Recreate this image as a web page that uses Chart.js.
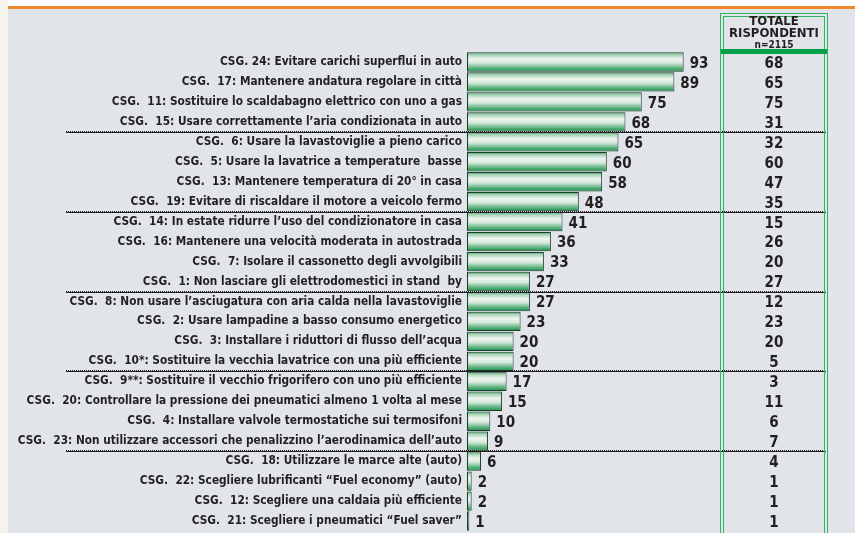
<!DOCTYPE html>
<html>
<head>
<meta charset="utf-8">
<script src="https://cdn.jsdelivr.net/npm/chart.js@4.4.1/dist/chart.umd.min.js"></script>
<style>
  html, body { margin: 0; padding: 0; background: #e1e4e9; }
  #wrap { position: relative; width: 855px; height: 533px; }
</style>
</head>
<body>
<div id="wrap"><canvas id="chart" width="855" height="533"></canvas></div>
<script>
// dati
var categorie = [
	"CSG. 24: Evitare carichi superflui in auto",
	"CSG.  17: Mantenere andatura regolare in città",
	"CSG.  11: Sostituire lo scaldabagno elettrico con uno a gas",
	"CSG.  15: Usare correttamente l\u2019aria condizionata in auto",
	"CSG.  6: Usare la lavastoviglie a pieno carico",
	"CSG.  5: Usare la lavatrice a temperature  basse",
	"CSG.  13: Mantenere temperatura di 20° in casa",
	"CSG.  19: Evitare di riscaldare il motore a veicolo fermo",
	"CSG.  14: In estate ridurre l\u2019uso del condizionatore in casa",
	"CSG.  16: Mantenere una velocità moderata in autostrada",
	"CSG.  7: Isolare il cassonetto degli avvolgibili",
	"CSG.  1: Non lasciare gli elettrodomestici in stand  by",
	"CSG.  8: Non usare l\u2019asciugatura con aria calda nella lavastoviglie",
	"CSG.  2: Usare lampadine a basso consumo energetico",
	"CSG.  3: Installare i riduttori di flusso dell\u2019acqua",
	"CSG.  10*: Sostituire la vecchia lavatrice con una più efficiente",
	"CSG.  9**: Sostituire il vecchio frigorifero con uno più efficiente",
	"CSG.  20: Controllare la pressione dei pneumatici almeno 1 volta al mese",
	"CSG.  4: Installare valvole termostatiche sui termosifoni",
	"CSG.  23: Non utilizzare accessori che penalizzino l\u2019aerodinamica dell\u2019auto",
	"CSG.  18: Utilizzare le marce alte (auto)",
	"CSG.  22: Scegliere lubrificanti \u201cFuel economy\u201d (auto)",
	"CSG.  12: Scegliere una caldaia più efficiente",
	"CSG.  21: Scegliere i pneumatici \u201cFuel saver\u201d"
];
var valori = [93, 89, 75, 68, 65, 60, 58, 48, 41, 36, 33, 27, 27, 23, 20, 20, 17, 15, 10, 9, 6, 2, 2, 1];
var totale = [68, 65, 75, 31, 32, 60, 47, 35, 15, 26, 20, 27, 12, 23, 20, 5, 3, 11, 6, 7, 4, 1, 1, 1];
var intestazione = ["TOTALE", "RISPONDENTI", "n=2115"];
var gruppo = 4; // linea tratteggiata ogni 4 righe

var FONT = "'DejaVu Sans Condensed', 'DejaVu Sans', sans-serif";
var TXT = "#231f20";

function gradBarra(c) {
	var chart = c.chart;
	var y = chart.scales && chart.scales.y;
	if (!chart.chartArea || !y || c.dataIndex === undefined) { return "#7cc095"; }
	var cy = y.getPixelForValue(c.dataIndex);
	var h = 10;
	var g = chart.ctx.createLinearGradient(0, cy - h, 0, cy + h);
	g.addColorStop(0, "#2e9a5a");
	g.addColorStop(0.15, "#a9d3b8");
	g.addColorStop(0.35, "#eef5f0");
	g.addColorStop(0.55, "#d6e8dc");
	g.addColorStop(0.8, "#5cb27e");
	g.addColorStop(1, "#138a45");
	return g;
}

// sfondo, linea arancio, separatori, valori, colonna totale
var decorazioni = {
	id: 'decorazioni',
	beforeDraw: function(chart) {
		var ctx = chart.ctx;
		ctx.save();
		ctx.fillStyle = "#e1e4e9";
		ctx.fillRect(0, 0, chart.width, chart.height);
		ctx.fillStyle = "#f5f3ee";
		ctx.fillRect(0, 0, 8, chart.height);
		ctx.fillStyle = "#ffffff";
		ctx.fillRect(8, 0, chart.width - 8, 6);
		ctx.fillStyle = "#ee8a2e";
		ctx.fillRect(8, 6, chart.width - 8, 3);
		ctx.restore();
	},
	afterDatasetsDraw: function(chart) {
		var ctx = chart.ctx;
		var y = chart.scales.y;
		var meta = chart.getDatasetMeta(0);
		ctx.save();

		// separatori
		ctx.strokeStyle = "#231f20";
		ctx.lineWidth = 1;
		for (var i = gruppo; i < categorie.length; i += gruppo) {
			var ly = Math.round((y.getPixelForValue(i - 1) + y.getPixelForValue(i)) / 2) + 0.5;
			ctx.beginPath();
			ctx.moveTo(66, ly);
			ctx.lineTo(826, ly);
			ctx.stroke();
			ctx.setLineDash([1, 1]);
			ctx.beginPath();
			ctx.moveTo(66, ly - 1);
			ctx.lineTo(826, ly - 1);
			ctx.stroke();
			ctx.setLineDash([]);
		}

		// etichette valori
		ctx.fillStyle = TXT;
		ctx.font = "bold 15px " + FONT;
		ctx.textBaseline = "middle";
		ctx.textAlign = "left";
		meta.data.forEach(function(bar, i) {
			ctx.fillText(valori[i], bar.x + 6, bar.y + 2);
		});

		// colonna totale rispondenti
		var bx = 720, bw = 108, top = 13, bot = chart.height;
		ctx.strokeStyle = "#2fb463";
		ctx.lineWidth = 1;
		ctx.strokeRect(bx + 0.5, top + 0.5, bw - 1, bot);
		ctx.strokeRect(bx + 3.5, top + 3.5, bw - 7, bot);
		ctx.fillStyle = "#00a04a";
		ctx.fillRect(bx + 1, 49, bw - 2, 5);

		var cx = bx + bw / 2;
		ctx.textAlign = "center";
		ctx.fillStyle = TXT;
		ctx.font = "bold 13px " + FONT;
		ctx.fillText(intestazione[0], cx, 22);
		ctx.fillText(intestazione[1], cx, 34);
		ctx.font = "bold 10px " + FONT;
		ctx.fillText(intestazione[2], cx, 45);
		ctx.font = "bold 15px " + FONT;
		totale.forEach(function(v, i) {
			ctx.fillText(v, cx, y.getPixelForValue(i) + 2);
		});
		ctx.restore();
	}
};

var ctx = document.getElementById('chart');
var grafico = new Chart(ctx, {
	type: 'bar',
	data: {
		labels: categorie,
		datasets: [{
			data: valori,
			backgroundColor: gradBarra,
			borderColor: "#1d3b2a",
			borderWidth: 1,
			borderSkipped: false,
			barPercentage: 1,
			categoryPercentage: 0.97
		}]
	},
	options: {
		indexAxis: 'y',
		responsive: false,
		animation: false,
		events: [],
		layout: { padding: { left: 0, right: 155, top: 52, bottom: 2 } },
		plugins: {
			legend: { display: false },
			tooltip: { enabled: false }
		},
		scales: {
			x: {
				display: false,
				min: 0,
				max: 100
			},
			y: {
				grid: { display: false, drawTicks: false },
				border: { display: false },
				afterFit: function(scale) {
					scale.width = 467;
					scale.paddingTop = 0;
					scale.paddingBottom = 0;
				},
				ticks: {
					autoSkip: false,
					color: TXT,
					padding: 5,
					font: { family: FONT, weight: 'bold', size: 11.75 }
				}
			}
		}
	},
	plugins: [decorazioni]
});
</script>
</body>
</html>
